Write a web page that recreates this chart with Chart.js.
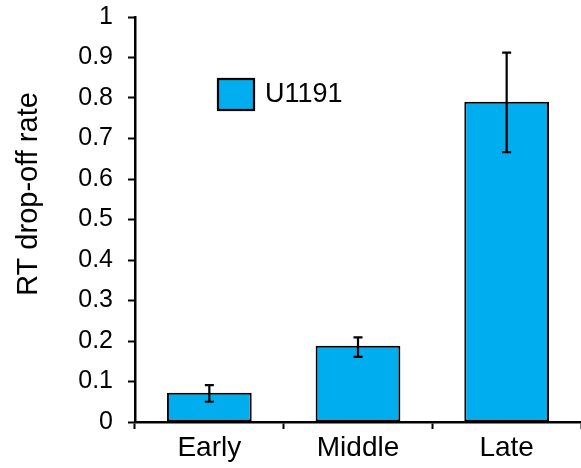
<!DOCTYPE html>
<html>
<head>
<meta charset="utf-8">
<script src="https://cdn.jsdelivr.net/npm/chart.js@4"></script>
<style>
  html, body { margin: 0; padding: 0; background: #fff; }
  #wrap { width: 581px; height: 468px; }
</style>
</head>
<body>
<div id="wrap"><canvas id="chart" width="581" height="468"></canvas></div>
<script>
// data
const categories = ['Early', 'Middle', 'Late'];
const seriesName = 'U1191';
const yTitle = 'RT drop-off rate';
const dropOff = [0.072, 0.188, 0.791];
const errLow = [0.050, 0.161, 0.666];
const errHigh = [0.091, 0.209, 0.912];
const yTicks = [0, 0.1, 0.2, 0.3, 0.4, 0.5, 0.6, 0.7, 0.8, 0.9, 1];

const FONT = '"Liberation Sans", Arial, Helvetica, sans-serif';
const BAR = '#00AEEF';

// error bars drawn through the y scale
const errorBars = {
  id: 'errorBars',
  afterDatasetsDraw(chart) {
    const ctx = chart.ctx;
    const y = chart.scales.y;
    const meta = chart.getDatasetMeta(0);
    ctx.save();
    ctx.strokeStyle = '#000';
    ctx.lineWidth = 2.2;
    meta.data.forEach((bar, i) => {
      const x = bar.x;
      const yLo = y.getPixelForValue(errLow[i]);
      const yHi = y.getPixelForValue(errHigh[i]);
      ctx.beginPath();
      ctx.moveTo(x, yLo); ctx.lineTo(x, yHi);
      ctx.moveTo(x - 4.5, yLo); ctx.lineTo(x + 4.5, yLo);
      ctx.moveTo(x - 4.5, yHi); ctx.lineTo(x + 4.5, yHi);
      ctx.stroke();
    });
    ctx.restore();
  }
};

// legend inside the plot (upper left) and the y title, a bit above centre
const extras = {
  id: 'extras',
  afterDraw(chart) {
    const ctx = chart.ctx;
    const area = chart.chartArea;
    const ds = chart.data.datasets[0];
    const bx = area.left + 83, by = area.top + 62;
    ctx.save();
    ctx.fillStyle = ds.backgroundColor;
    ctx.fillRect(bx, by, 36, 31);
    ctx.strokeStyle = '#000';
    ctx.lineWidth = 2.2;
    ctx.strokeRect(bx, by, 36, 31);
    ctx.fillStyle = '#000';
    ctx.font = '27px ' + FONT;
    ctx.textBaseline = 'middle';
    ctx.fillText(ds.label, bx + 47, by + 16);

    ctx.translate(29, area.top + 177);
    ctx.rotate(-Math.PI / 2);
    ctx.textAlign = 'center';
    ctx.font = '29px ' + FONT;
    ctx.fillText(yTitle, 0, 0);
    ctx.restore();
  }
};

new Chart(document.getElementById('chart'), {
  type: 'bar',
  data: {
    labels: categories,
    datasets: [{
      label: seriesName,
      data: dropOff,
      backgroundColor: BAR,
      borderColor: '#000',
      borderWidth: 2,
      borderSkipped: false,
      barPercentage: 0.57,
      categoryPercentage: 1
    }]
  },
  options: {
    responsive: false,
    animation: false,
    layout: { padding: { top: 0, right: 0, left: 0, bottom: 0 } },
    plugins: {
      legend: { display: false },
      tooltip: { enabled: false }
    },
    scales: {
      x: {
        offset: true,
        grid: { display: true, offset: true, drawOnChartArea: false, drawTicks: true, tickLength: 7, tickWidth: 2, tickColor: '#000' },
        border: { display: true, color: '#000', width: 2.5 },
        ticks: { color: '#000', font: { family: FONT, size: 28 }, padding: 2, maxRotation: 0 },
        afterFit(scale) { scale.height = 46; }
      },
      y: {
        min: 0,
        max: 1,
        afterBuildTicks(scale) { scale.ticks = yTicks.map(v => ({ value: v })); },
        grid: { display: true, drawOnChartArea: false, drawTicks: true, tickLength: 7, tickWidth: 2, tickColor: '#000' },
        border: { display: true, color: '#000', width: 2.5 },
        ticks: {
          color: '#000',
          font: { family: FONT, size: 25, lineHeight: '4px' },
          padding: 15,
          callback: v => String(Math.round(v * 10) / 10)
        },
        afterFit(scale) { scale.width = 135; }
      }
    }
  },
  plugins: [errorBars, extras]
});
</script>
</body>
</html>
